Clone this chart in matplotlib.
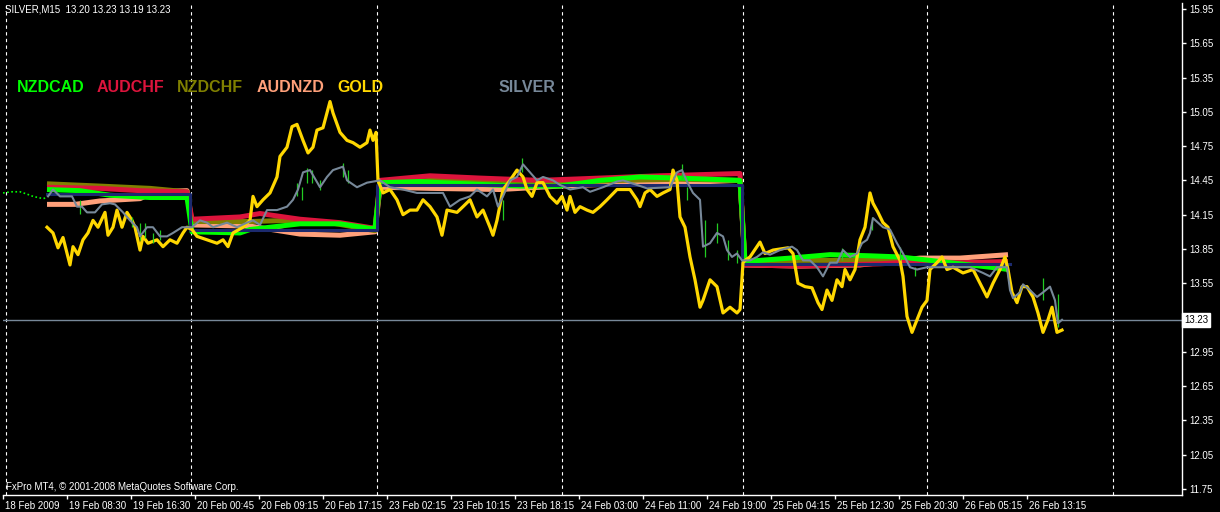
import matplotlib
matplotlib.use("Agg")
import matplotlib.pyplot as plt
import matplotlib.transforms as mtransforms

# x axis = bar number on the M15 chart (weekends skipped, 32 bars between labels)
tick_bars = [0, 32, 64, 96, 128, 160, 192, 224, 256, 288, 320, 352, 384, 416, 448, 480, 512]
tick_labels = ["18 Feb 2009", "19 Feb 08:30", "19 Feb 16:30", "20 Feb 00:45", "20 Feb 09:15",
               "20 Feb 17:15", "23 Feb 02:15", "23 Feb 10:15", "23 Feb 18:15", "24 Feb 03:00",
               "24 Feb 11:00", "24 Feb 19:00", "25 Feb 04:15", "25 Feb 12:30", "25 Feb 20:30",
               "26 Feb 05:15", "26 Feb 13:15"]
day_breaks = [1.5, 94, 187, 279.5, 370, 462, 555]
price_ticks = [15.95, 15.65, 15.35, 15.05, 14.75, 14.45, 14.15, 13.85, 13.55,
               12.95, 12.65, 12.35, 12.05, 11.75]
last_price = 13.23

# SILVER bars before the overlay starts
pre_bars = [0, 4, 8.5, 12, 15, 20, 22]
pre_price = [14.34, 14.35, 14.35, 14.33, 14.31, 14.29, 14.30]

# basket level (dark blue step line)
basket_bars = [22, 93.5, 93.5, 187, 187, 369.5, 369.5, 503.5]
basket_price = [14.33, 14.33, 14.02, 14.02, 14.41, 14.41, 13.72, 13.72]

nzdcad_bars = [22, 38.5, 53.5, 73.5, 92, 94.5, 118.5, 123.5, 148.5, 168.5, 183.5, 186,
               188.5, 208.5, 218.5, 258.5, 278.5, 298.5, 318.5, 338.5, 368.5,
               371, 393.5, 413.5, 433.5, 448.5, 473.5, 498.5, 502.5]
nzdcad = [14.37, 14.36, 14.32, 14.30, 14.30, 14.00, 13.99, 14.02, 14.07, 14.07, 14.03, 14.03,
          14.43, 14.44, 14.43, 14.40, 14.40, 14.45, 14.48, 14.47, 14.45,
          13.74, 13.77, 13.80, 13.79, 13.78, 13.73, 13.68, 13.67]

audchf_bars = [22, 48.5, 68.5, 92, 94.5, 118.5, 128.5, 148.5, 168.5, 186,
               188.5, 213.5, 238.5, 268.5, 298.5, 328.5, 348.5, 368.5,
               371, 398.5, 438.5, 458.5, 478.5, 502.5]
audchf = [14.39, 14.38, 14.36, 14.35, 14.11, 14.13, 14.16, 14.11, 14.08, 14.03,
          14.45, 14.49, 14.47, 14.45, 14.47, 14.49, 14.50, 14.51,
          13.71, 13.70, 13.72, 13.74, 13.73, 13.74]

nzdchf_bars = [22, 48.5, 73.5, 92, 94.5, 123.5, 143.5, 163.5, 186,
               188.5, 213.5, 248.5, 278.5, 308.5, 338.5, 368.5,
               371, 398.5, 438.5, 458.5, 478.5, 502.5]
nzdchf = [14.42, 14.40, 14.38, 14.35, 14.09, 14.09, 14.10, 14.08, 14.01,
          14.42, 14.45, 14.45, 14.43, 14.45, 14.46, 14.45,
          13.73, 13.75, 13.75, 13.73, 13.71, 13.70]

audnzd_bars = [22, 36, 48.5, 68.5, 76, 92, 94.5, 123.5, 148.5, 168.5, 186,
               188.5, 213.5, 248.5, 278.5, 308.5, 338.5, 368.5,
               371, 398.5, 428.5, 458.5, 478.5, 502.5]
audnzd = [14.24, 14.24, 14.27, 14.29, 14.35, 14.36, 14.06, 14.05, 13.98, 13.97, 14.00,
          14.39, 14.38, 14.37, 14.40, 14.42, 14.43, 14.45,
          13.71, 13.70, 13.71, 13.77, 13.77, 13.80]

gold_bars = [22, 25, 27.5, 30, 32.5, 33.5, 35, 37.5, 40, 42.5, 45, 47.5, 51, 52.5, 55, 57,
             59.5, 62, 64.5, 66, 68.5, 70, 72.5, 77, 80, 83.5, 87, 90, 92, 94.5, 97, 102,
             107, 110, 112.5, 115, 120, 123.5, 125, 127, 130, 133.5, 137, 138.5, 142, 144.5,
             147, 148.5, 150, 152.5, 155, 157, 160, 162, 163.5, 165, 168.5, 172, 175, 178.5,
             182, 183.5, 185, 186.5, 187.5, 190, 193.5, 197, 200, 203.5, 207, 210, 213.5,
             217, 219.5, 222, 227, 230, 233.5, 237, 240, 243.5, 245, 247, 250, 253.5, 257,
             260, 262, 264.5, 267, 270, 273.5, 277, 279.5, 282, 283.5, 286, 288.5, 292, 295,
             298.5, 302, 307, 313.5, 317, 318.5, 321, 323.5, 327, 330, 333.5, 335, 337,
             338.5, 341, 343.5, 346, 348.5, 350, 353.5, 357, 360, 363.5, 367, 368.5, 370,
             371, 373.5, 378.5, 381, 385, 392.5, 395, 397.5, 401, 404.5, 407.5, 409.5, 412,
             414.5, 417, 419.5, 421, 423.5, 426, 428.5, 431, 433.5, 435, 437.5, 440, 442.5,
             445, 448.5, 450, 452, 454.5, 457, 459.5, 462, 463.5, 467, 469.5, 472, 475, 480,
             485, 488.5, 492, 495, 498.5, 501, 502.5, 504.5, 507, 509.5, 512, 515, 517.5,
             520, 522.5, 524.5, 527, 529.5]
gold = [14.04, 13.99, 13.86, 13.95, 13.78, 13.71, 13.87, 13.80, 13.93, 13.99, 14.10, 14.04,
        14.17, 13.97, 14.04, 14.19, 14.04, 14.17, 14.10, 14.04, 13.84, 13.96, 13.90, 13.93,
        13.87, 13.93, 13.90, 13.99, 14.04, 14.02, 13.96, 13.93, 13.90, 13.93, 13.87, 13.99,
        14.04, 14.10, 14.31, 14.22, 14.28, 14.34, 14.48, 14.66, 14.74, 14.92, 14.94, 14.87,
        14.80, 14.69, 14.74, 14.89, 14.91, 15.04, 15.14, 15.04, 14.87, 14.80, 14.78, 14.74,
        14.78, 14.89, 14.80, 14.87, 14.45, 14.34, 14.37, 14.28, 14.15, 14.19, 14.19, 14.28,
        14.22, 14.13, 13.97, 14.19, 14.17, 14.22, 14.28, 14.13, 14.19, 14.04, 13.97, 14.10,
        14.37, 14.45, 14.54, 14.48, 14.37, 14.31, 14.43, 14.43, 14.31, 14.25, 14.31, 14.19,
        14.31, 14.17, 14.22, 14.19, 14.17, 14.22, 14.28, 14.37, 14.37, 14.28, 14.22, 14.34,
        14.37, 14.31, 14.34, 14.37, 14.54, 14.45, 14.13, 14.04, 13.78, 13.58, 13.34, 13.40,
        13.58, 13.52, 13.29, 13.34, 13.29, 13.32, 13.73, 13.75, 13.78, 13.91, 13.81, 13.84,
        13.86, 13.81, 13.55, 13.52, 13.51, 13.38, 13.32, 13.49, 13.40, 13.58, 13.52, 13.67,
        13.58, 13.67, 13.93, 14.04, 14.34, 14.25, 14.17, 14.08, 14.04, 13.87, 13.75, 13.61,
        13.26, 13.12, 13.23, 13.34, 13.40, 13.67, 13.73, 13.78, 13.67, 13.69, 13.64, 13.67,
        13.55, 13.43, 13.55, 13.67, 13.78, 13.67, 13.47, 13.38, 13.52, 13.52, 13.43, 13.29,
        13.12, 13.23, 13.34, 13.12, 13.14]

silver_bars = [22.5, 25, 28.5, 34.5, 37, 39.5, 42, 46, 49.5, 53.5, 56, 60, 63.5, 67, 68.5, 72,
               75, 78.5, 82, 85, 89.5, 94.5, 98.5, 102, 105, 112, 117, 122, 125, 128.5, 132,
               137, 142, 145, 147.5, 150, 153.5, 158.5, 162, 165, 170, 172, 177, 182, 188.5,
               193.5, 200, 207, 220, 223.5, 228.5, 233.5, 237, 242, 245, 247.5, 250, 253.5,
               257, 260, 263.5, 267, 270, 275, 278.5, 283.5, 290, 293.5, 300, 307, 310, 317,
               322, 333.5, 337, 339.5, 342, 345, 348.5, 350, 353.5, 357, 360, 362, 364.5, 367,
               369.5, 373.5, 377, 380, 383.5, 388.5, 394.5, 397, 400, 403.5, 407, 410, 413.5,
               417, 420, 423.5, 427, 429.5, 432, 433.5, 435, 437.5, 440, 443.5, 447, 450,
               453.5, 457, 462, 477, 483.5, 490, 493.5, 497, 502, 503.5, 505, 508.5, 510,
               513.5, 517, 520, 523.5, 526, 527.5, 529.5]
silver = [14.31, 14.37, 14.31, 14.31, 14.22, 14.22, 14.17, 14.17, 14.24, 14.25, 14.24, 14.17,
          14.10, 14.04, 13.96, 14.04, 14.04, 13.96, 13.96, 13.99, 14.04, 14.04, 14.10, 14.08,
          14.04, 14.08, 14.04, 14.08, 14.10, 14.06, 14.19, 14.19, 14.22, 14.28, 14.37, 14.52,
          14.54, 14.39, 14.48, 14.54, 14.57, 14.45, 14.39, 14.43, 14.45, 14.39, 14.37, 14.34,
          14.34, 14.22, 14.28, 14.31, 14.37, 14.31, 14.37, 14.22, 14.31, 14.45, 14.48, 14.59,
          14.52, 14.45, 14.48, 14.45, 14.41, 14.37, 14.39, 14.35, 14.39, 14.44, 14.45, 14.41,
          14.38, 14.39, 14.52, 14.54, 14.44, 14.34, 14.28, 13.87, 13.90, 13.99, 13.96, 13.84,
          13.78, 13.81, 13.75, 13.75, 13.78, 13.82, 13.80, 13.84, 13.87, 13.84, 13.75, 13.75,
          13.69, 13.61, 13.73, 13.73, 13.84, 13.78, 13.81, 13.90, 13.93, 13.99, 14.12, 14.08,
          14.04, 14.02, 13.90, 13.81, 13.69, 13.67, 13.69, 13.69, 13.69, 13.64, 13.61, 13.69,
          13.69, 13.49, 13.42, 13.47, 13.54, 13.49, 13.43, 13.47, 13.52, 13.40, 13.20, 13.23]

# visible high/low spikes of the SILVER bars
spike_bars = [38.5, 64.5, 68.5, 71, 75, 78.5, 147, 149.5, 152, 154.5, 158.5, 170, 172.5,
              250, 259.5, 339.5, 342, 351, 357, 362.5, 367, 419.5, 434.5, 448.5, 456, 520, 527.5]
spike_low = [14.16, 14.04, 13.93, 13.95, 13.90, 13.93, 14.31, 14.28, 14.43, 14.43, 14.37,
             14.48, 14.43, 14.10, 14.52, 14.45, 14.28, 13.78, 13.90, 13.75, 13.73, 13.75,
             14.02, 13.75, 13.61, 13.40, 13.17]
spike_high = [14.28, 14.13, 14.08, 14.08, 13.99, 14.02, 14.43, 14.39, 14.56, 14.54, 14.45,
              14.60, 14.54, 14.28, 14.65, 14.59, 14.39, 14.10, 14.08, 13.93, 13.84, 13.86,
              14.13, 13.87, 13.69, 13.60, 13.46]

names = ["NZDCAD", "AUDCHF", "NZDCHF", "AUDNZD", "GOLD", "SILVER"]
colors = ["#00ff00", "#dc143c", "#808000", "#ffa07a", "#ffd700", "#778899"]
name_x = [17, 97, 177, 257, 337, 499]

fig = plt.figure(figsize=(12.2, 5.12), dpi=100, facecolor="black")
ax = fig.add_axes([3 / 1220, 1 - 495 / 512, 1179 / 1220, 492 / 512])
ax.set_facecolor("black")

ax.set_xlim(0, 589.5)
ax.set_ylim(11.697, 16.002)

for b in day_breaks:
    ax.axvline(b, color="white", linestyle=(0, (3, 3)), linewidth=0.8, zorder=1)

ax.axhline(last_price, color="#778899", linewidth=1, zorder=2)

ax.plot(pre_bars, pre_price, color="#00ff00", linestyle=(0, (1, 1.5)), linewidth=1.2, zorder=3)

band_order = [(audnzd_bars, audnzd, 3), (nzdchf_bars, nzdchf, 2), (audchf_bars, audchf, 1),
              (nzdcad_bars, nzdcad, 0)]
for xs, ys, ci in band_order:
    ax.plot(xs, ys, color=colors[ci], linewidth=3.6, solid_capstyle="butt", zorder=4)

ax.plot(basket_bars, basket_price, color="#1c2a6e", linewidth=2.2, zorder=5)
ax.plot(gold_bars, gold, color=colors[4], linewidth=2.3, zorder=6)
ax.vlines(spike_bars, spike_low, spike_high, color="#22cc22", linewidth=0.9, zorder=7)
ax.plot(silver_bars, silver, color="#778899", linewidth=1.5, zorder=8)

# axes look
for side in ["left", "top"]:
    ax.spines[side].set_visible(False)
for side in ["right", "bottom"]:
    ax.spines[side].set_color("white")
    ax.spines[side].set_linewidth(1)

ax.yaxis.tick_right()
ax.set_yticks(price_ticks)
ax.set_yticklabels([f"{p:.2f}" for p in price_ticks])
ax.tick_params(axis="y", colors="white", length=3, width=1, pad=2, labelsize=7,
               labelfontfamily="Liberation Sans")
ax.set_xticks(tick_bars)
ax.set_xticklabels(tick_labels, ha="left")
ax.tick_params(axis="x", colors="white", length=3, width=1, pad=1, labelsize=7,
               labelfontfamily="Liberation Sans")
offset = mtransforms.ScaledTranslation(2 / 100, 0, fig.dpi_scale_trans)
for lbl in ax.get_xticklabels():
    lbl.set_transform(lbl.get_transform() + offset)

# current price box
trans = mtransforms.blended_transform_factory(ax.transAxes, ax.transData)
ax.text(1.002, last_price, f"{last_price:.2f}", transform=trans, ha="left", va="center",
        fontsize=7, family="Liberation Sans", color="black",
        bbox=dict(facecolor="white", edgecolor="white", boxstyle="square,pad=0.2"))

# labels
for n, c, x in zip(names, colors, name_x):
    fig.text(x / 1220, 1 - 87 / 512, n, color=c, fontsize=11.5, fontweight="bold",
             family="Liberation Sans", va="center", ha="left")

fig.text(5 / 1220, 1 - 10 / 512, "SILVER,M15  13.20 13.23 13.19 13.23", color="white",
         fontsize=7, family="Liberation Sans", va="center", ha="left")
fig.text(6 / 1220, 1 - 487 / 512, "FxPro MT4, \u00a9 2001-2008 MetaQuotes Software Corp.",
         color="white", fontsize=7, family="Liberation Sans", va="center", ha="left")

fig.savefig("out.png", dpi=100, facecolor="black")
